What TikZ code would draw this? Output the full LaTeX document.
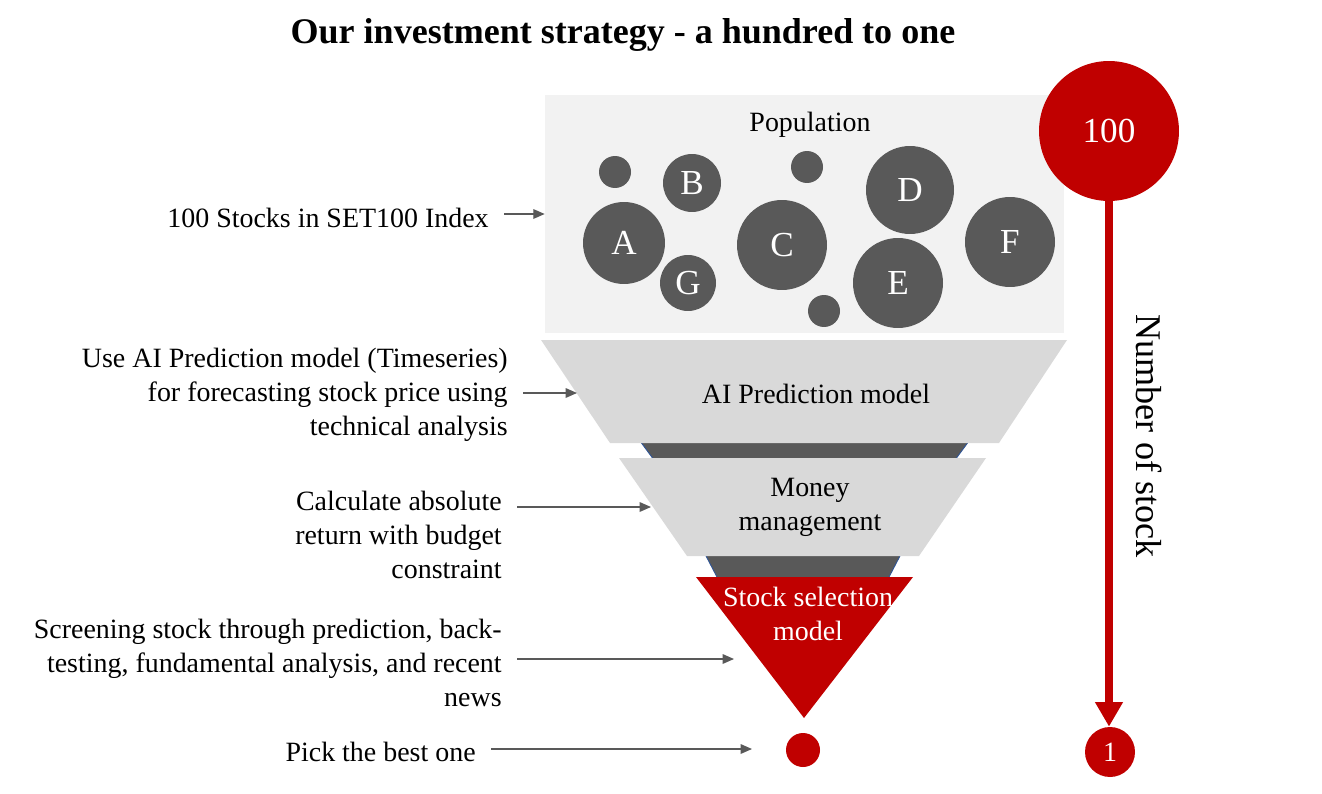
\documentclass[tikz,border=0pt]{standalone}
\usepackage{fontspec}
\setmainfont{Liberation Serif}
\usetikzlibrary{arrows.meta,positioning}
\definecolor{popgray}{HTML}{F2F2F2}
\definecolor{stagegray}{HTML}{D9D9D9}
\definecolor{ballgray}{HTML}{595959}
\definecolor{pickred}{HTML}{C00000}
\definecolor{edgeblue}{HTML}{2F5597}

\begin{document}
\begin{tikzpicture}[x=0.02cm,y=-0.02cm,
lbl/.style={align=right,anchor=east,inner sep=0pt,font=\fontsize{15.9}{19.3}\selectfont},
stagetxt/.style={align=center,font=\fontsize{15.9}{19.3}\selectfont},
ball/.style={circle,fill=ballgray,inner sep=0pt,text=white,font=\fontsize{20}{22}\selectfont},
redball/.style={circle,fill=pickred,inner sep=0pt,text=white,font=\fontsize{15.9}{18}\selectfont},
pointer/.style={-{Triangle[length=6.5pt,width=5.5pt]},draw=ballgray,fill=ballgray,line width=0.7pt,shorten <=0.3cm}]
\useasboundingbox (0,0) rectangle (1322,794);
\node[font=\bfseries\fontsize{20.5}{22}\selectfont] (title) at (623,35) {Our investment strategy - a hundred to one};
\node[fill=popgray,minimum width=10.38cm,minimum height=4.76cm,inner sep=0pt] (pop) at (804.5,214) {};
\node[stagetxt] (poptxt) at (810,125) {Population};
\node[ball,minimum size=0.64cm] (s1) at (615,172) {};
\node[ball,minimum size=1.16cm] (b) at (692,183) {B};
\node[ball,minimum size=0.64cm] (s2) at (807,167) {};
\node[ball,minimum size=1.76cm] (d) at (910,190) {D};
\node[ball,minimum size=1.64cm] (a) at (624,243) {A};
\node[ball,minimum size=1.8cm] (c) at (782,245) {C};
\node[ball,minimum size=1.8cm] (f) at (1010,242) {F};
\node[ball,minimum size=1.12cm] (g) at (688,283) {G};
\node[ball,minimum size=1.8cm] (e) at (898,283) {E};
\node[ball,minimum size=0.64cm] (s3) at (824,311) {};
\fill[ballgray] (640,441) -- (969,441) -- (955,460) -- (654,460) -- cycle;
\draw[edgeblue,line width=0.5pt] (640,441) -- (654,460) (969,441) -- (955,460);
\fill[stagegray] (541,340) -- (1067,340) -- (999,443) -- (610,443) -- cycle;
\node[stagetxt] (aitxt) at (816,394) {AI Prediction model};
\fill[ballgray] (705,554) -- (901,554) -- (888,579) -- (718,579) -- cycle;
\draw[edgeblue,line width=0.5pt] (705,554) -- (718,579) (901,554) -- (888,579);
\fill[stagegray] (619,458) -- (986,458) -- (919,556) -- (687,556) -- cycle;
\node[stagetxt] (mmtxt) at (810,507) {Money\\management};
\fill[pickred] (696,577) -- (913,577) -- (804,718) -- cycle;
\node[stagetxt,text=white] (seltxt) at (808,614) {Stock selection\\model};
\node[redball,minimum size=0.68cm] (best) at (803,750) {};
\node[redball,minimum size=2.8cm,font=\fontsize{20}{22}\selectfont] (n100) at (1109,131) {100};
\node[redball,minimum size=1.0cm] (n1) at (1110,752) {1};
\draw[pickred,line width=4.5pt,-{Triangle[length=14pt,width=15pt]}] (n100.south) -- (n100.south |- n1.north);
\node[rotate=-90,font=\fontsize{20.6}{22}\selectfont] (count) at (1149,436) {Number of stock};
\node[lbl] (lblpop) at (489,218) {100 Stocks in SET100 Index};
\node[lbl] (lblai) at (508,395) {Use AI Prediction model (Timeseries)\\for forecasting stock price using\\technical analysis};
\node[lbl] (lblmm) at (502,535) {Calculate absolute\\return with budget\\constraint};
\node[lbl] (lblsel) at (502,663) {Screening stock through prediction, back-\\testing, fundamental analysis, and recent\\news};
\node[lbl] (lblbest) at (476,752) {Pick the best one};
\coordinate (aitip) at (577,393);
\coordinate (mmtip) at (651,507);
\coordinate (seltip) at (734,659);
\coordinate (besttip) at (752,749);
\draw[pointer] (lblpop.east |- pop.west) -- (pop.west);
\draw[pointer] (lblai.east |- aitip) -- (aitip);
\draw[pointer] (lblmm.east |- mmtip) -- (mmtip);
\draw[pointer] (lblsel.east |- seltip) -- (seltip);
\draw[pointer] (lblbest.east |- besttip) -- (besttip);
\end{tikzpicture}
\end{document}
